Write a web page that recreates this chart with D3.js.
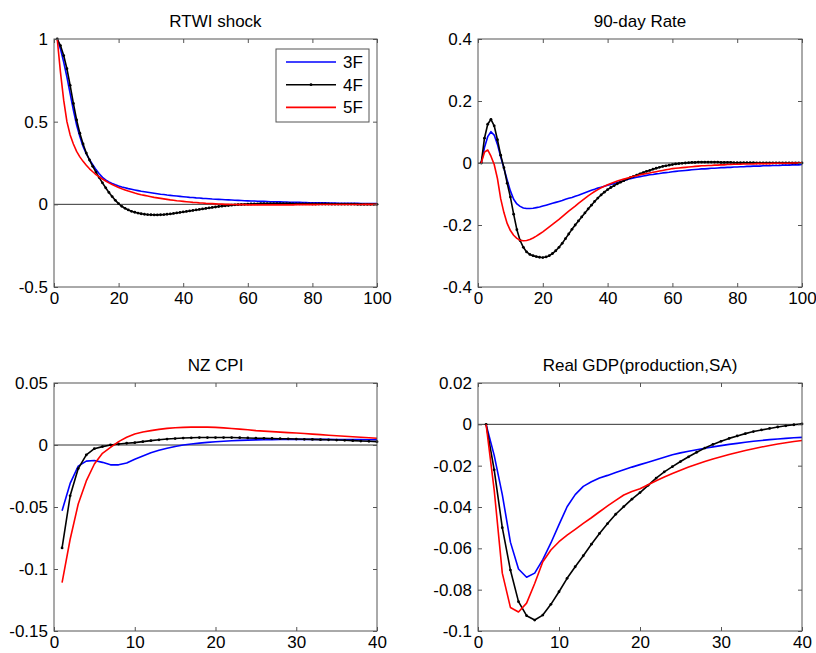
<!DOCTYPE html>
<html><head><meta charset="utf-8">
<script src="https://cdn.jsdelivr.net/npm/d3@7"></script>
<style>body{margin:0;background:#fff} text{font-family:Arial,"Liberation Sans",Helvetica,sans-serif}</style>
</head><body><svg id="c" width="816" height="653"></svg>
<script>
// ---------- DATA ----------
const seriesNames = ["3F", "4F", "5F"];
const seriesColors = ["#0000ff", "#000000", "#ff0000"];

const rtwi3F = [1.0,0.94,0.86,0.77,0.67,0.57,0.48,0.41,0.35,0.305,
0.27,0.24,0.21,0.185,0.163,0.148,0.136,0.126,0.118,0.111,
0.105,0.1,0.095,0.091,0.087,0.083,0.079,0.076,0.073,0.07,
0.067,0.064,0.061,0.059,0.056,0.054,0.052,0.05,0.048,0.046,
0.044,0.042,0.041,0.039,0.038,0.036,0.035,0.034,0.032,0.031,
0.03,0.029,0.028,0.027,0.026,0.025,0.024,0.023,0.022,0.021,
0.02,0.02,0.019,0.018,0.018,0.017,0.016,0.016,0.015,0.015,
0.014,0.014,0.013,0.013,0.012,0.012,0.011,0.011,0.01,0.01,
0.01,0.009,0.009,0.009,0.008,0.008,0.008,0.007,0.007,0.007,
0.006,0.006,0.006,0.006,0.005,0.005,0.005,0.005,0.004,0.004];
const rtwi4F = [1.0,0.96,0.9,0.82,0.72,0.61,0.51,0.43,0.365,0.31,
0.268,0.23,0.195,0.162,0.13,0.1,0.072,0.047,0.024,0.004,
-0.012,-0.024,-0.034,-0.042,-0.048,-0.053,-0.057,-0.06,-0.062,-0.063,
-0.064,-0.064,-0.063,-0.062,-0.06,-0.058,-0.055,-0.052,-0.049,-0.046,
-0.043,-0.04,-0.037,-0.034,-0.031,-0.028,-0.025,-0.022,-0.019,-0.016,
-0.013,-0.011,-0.009,-0.007,-0.005,-0.003,-0.002,-0.001,0.0,0.001,
0.002,0.003,0.003,0.004,0.004,0.004,0.004,0.004,0.004,0.004,
0.004,0.004,0.004,0.003,0.003,0.003,0.003,0.003,0.003,0.002,
0.002,0.002,0.002,0.002,0.002,0.001,0.001,0.001,0.001,0.001,
0.001,0.001,0.001,0.0,0.0,0.0,0.0,0.0,0.0,0.0];
const rtwi5F = [1.0,0.8,0.63,0.5,0.42,0.365,0.32,0.287,0.26,0.236,
0.215,0.197,0.18,0.166,0.153,0.141,0.13,0.12,0.111,0.102,
0.094,0.087,0.08,0.074,0.068,0.063,0.058,0.054,0.05,0.046,
0.042,0.039,0.036,0.033,0.03,0.027,0.025,0.022,0.02,0.018,
0.016,0.014,0.012,0.011,0.009,0.008,0.006,0.005,0.004,0.003,
0.002,0.001,0.0,0.0,-0.001,-0.001,-0.002,-0.002,-0.002,-0.003,
-0.003,-0.003,-0.003,-0.003,-0.003,-0.003,-0.003,-0.003,-0.003,-0.003,
-0.003,-0.003,-0.003,-0.003,-0.002,-0.002,-0.002,-0.002,-0.002,-0.002,
-0.002,-0.001,-0.001,-0.001,-0.001,-0.001,-0.001,-0.001,-0.001,-0.001,
-0.001,-0.001,-0.001,-0.001,-0.001,0.0,0.0,0.0,0.0,0.0];

const rate3F = [0,0.05,0.085,0.101,0.09,0.06,0.02,-0.017,-0.055,-0.09,
-0.117,-0.132,-0.14,-0.145,-0.147,-0.147,-0.146,-0.144,-0.142,-0.139,
-0.136,-0.133,-0.13,-0.127,-0.124,-0.121,-0.117,-0.114,-0.111,-0.107,
-0.104,-0.1,-0.096,-0.092,-0.088,-0.085,-0.081,-0.078,-0.075,-0.072,
-0.069,-0.066,-0.063,-0.06,-0.057,-0.053,-0.051,-0.048,-0.046,-0.044,
-0.042,-0.04,-0.038,-0.037,-0.035,-0.034,-0.032,-0.031,-0.03,-0.028,
-0.027,-0.026,-0.025,-0.024,-0.023,-0.022,-0.021,-0.02,-0.019,-0.019,
-0.018,-0.017,-0.017,-0.016,-0.015,-0.015,-0.014,-0.014,-0.013,-0.013,
-0.012,-0.012,-0.011,-0.011,-0.01,-0.01,-0.01,-0.009,-0.009,-0.009,
-0.008,-0.008,-0.008,-0.007,-0.007,-0.007,-0.006,-0.006,-0.006,-0.005];
const rate4F = [0,0.08,0.125,0.141,0.12,0.075,0.025,-0.015,-0.065,-0.11,
-0.165,-0.215,-0.25,-0.272,-0.287,-0.295,-0.299,-0.302,-0.304,-0.305,
-0.303,-0.299,-0.292,-0.283,-0.272,-0.259,-0.244,-0.229,-0.214,-0.2,
-0.187,-0.174,-0.161,-0.148,-0.136,-0.124,-0.113,-0.103,-0.094,-0.086,
-0.079,-0.073,-0.067,-0.062,-0.057,-0.052,-0.047,-0.043,-0.039,-0.035,
-0.031,-0.027,-0.024,-0.02,-0.017,-0.014,-0.011,-0.009,-0.007,-0.005,
-0.003,-0.002,-0.001,0,0.001,0.002,0.002,0.003,0.003,0.003,
0.003,0.003,0.003,0.003,0.002,0.002,0.002,0.002,0.001,0.001,
0.001,0.001,0.001,0.001,0.001,0,0,0,0,0,
0,0,0,0,0,0,0,0,0,0];
const rate5F = [0,0.035,0.042,0.022,-0.005,-0.05,-0.115,-0.16,-0.195,-0.218,
-0.233,-0.243,-0.249,-0.251,-0.25,-0.247,-0.242,-0.236,-0.229,-0.222,
-0.214,-0.206,-0.198,-0.19,-0.182,-0.173,-0.164,-0.155,-0.147,-0.139,
-0.13,-0.122,-0.114,-0.106,-0.099,-0.092,-0.086,-0.08,-0.075,-0.07,
-0.066,-0.062,-0.058,-0.055,-0.052,-0.049,-0.046,-0.043,-0.041,-0.038,
-0.036,-0.034,-0.032,-0.03,-0.028,-0.026,-0.024,-0.022,-0.02,-0.018,
-0.017,-0.016,-0.015,-0.014,-0.013,-0.012,-0.011,-0.01,-0.009,-0.009,
-0.008,-0.008,-0.007,-0.007,-0.006,-0.006,-0.005,-0.005,-0.004,-0.004,
-0.004,-0.003,-0.003,-0.003,-0.003,-0.002,-0.002,-0.002,-0.002,-0.002,
-0.001,-0.001,-0.001,-0.001,-0.001,-0.001,0,0,0,0];

const cpi3F = [-0.053,-0.031,-0.017,-0.013,-0.0125,-0.014,-0.016,-0.016,-0.0145,-0.0115,
-0.0088,-0.0063,-0.0043,-0.0027,-0.0012,0.0,0.0008,0.0015,0.0021,0.0026,
0.003,0.0034,0.0037,0.0039,0.0041,0.0042,0.0043,0.0044,0.0045,0.0045,
0.0045,0.0045,0.0045,0.0045,0.0044,0.0044,0.0043,0.0043,0.0042,0.0042];
const cpi4F = [-0.083,-0.041,-0.019,-0.008,-0.003,-0.0013,0.0,0.0008,0.0014,0.0019,
0.0027,0.0035,0.0042,0.0048,0.0052,0.0056,0.0058,0.006,0.006,0.006,
0.006,0.006,0.0059,0.0057,0.0055,0.0054,0.0053,0.0051,0.005,0.0048,
0.0046,0.0045,0.0043,0.0042,0.004,0.0038,0.0035,0.0032,0.003,0.0027];
const cpi5F = [-0.111,-0.076,-0.0476,-0.029,-0.0153,-0.0067,-0.0019,0.0027,0.0062,0.0089,
0.0105,0.0116,0.0126,0.0134,0.0139,0.0142,0.0144,0.0145,0.0144,0.0142,
0.0138,0.0133,0.0128,0.0123,0.0116,0.0112,0.0108,0.0104,0.01,0.0097,
0.0093,0.0088,0.0084,0.0079,0.0075,0.0071,0.0067,0.0063,0.0058,0.0054];

const gdp3F = [0,-0.015,-0.034,-0.057,-0.07,-0.074,-0.072,-0.0655,-0.0574,-0.0485,
-0.0399,-0.034,-0.03,-0.0278,-0.026,-0.0247,-0.0233,-0.022,-0.0207,-0.0195,
-0.0183,-0.0171,-0.0159,-0.0147,-0.0138,-0.013,-0.0123,-0.0116,-0.0109,-0.0103,
-0.0097,-0.0092,-0.0087,-0.0082,-0.0078,-0.0074,-0.0071,-0.0068,-0.0065,-0.0063];
const gdp4F = [0,-0.022,-0.05,-0.0705,-0.0858,-0.0926,-0.0947,-0.0923,-0.0871,-0.081,
-0.0745,-0.0689,-0.0636,-0.058,-0.0528,-0.048,-0.0435,-0.0398,-0.0362,-0.033,
-0.0295,-0.026,-0.023,-0.0205,-0.018,-0.0157,-0.0135,-0.0115,-0.0097,-0.0082,
-0.0068,-0.0056,-0.0045,-0.0035,-0.0027,-0.002,-0.0013,-0.0007,-0.0002,0.0002];
const gdp5F = [0,-0.0318,-0.072,-0.0886,-0.0908,-0.0865,-0.077,-0.0665,-0.0608,-0.0568,
-0.0536,-0.0508,-0.0479,-0.0452,-0.0423,-0.0395,-0.0368,-0.0342,-0.0325,-0.0312,
-0.0292,-0.0273,-0.0255,-0.0238,-0.0222,-0.0207,-0.0193,-0.018,-0.0168,-0.0157,
-0.0146,-0.0136,-0.0127,-0.0118,-0.011,-0.0102,-0.0095,-0.0089,-0.0083,-0.0078];

const titles = ["RTWI shock", "90-day Rate", "NZ CPI", "Real GDP(production,SA)"];
const xTicksLong = [0, 20, 40, 60, 80, 100];
const xTicksShort = [0, 10, 20, 30, 40];
const yTicksRtwi = [-0.5, 0, 0.5, 1];
const yTicksRate = [-0.4, -0.2, 0, 0.2, 0.4];
const yTicksCpi = [-0.15, -0.1, -0.05, 0, 0.05];
const yTicksGdp = [-0.1, -0.08, -0.06, -0.04, -0.02, 0, 0.02];

// ---------- LAYOUT ----------
const panels = [
  {title: titles[0], box: [54, 377, 39, 287], xd: [0, 100], yd: [-0.5, 1], xt: xTicksLong, yt: yTicksRtwi, data: [rtwi3F, rtwi4F, rtwi5F], legend: true},
  {title: titles[1], box: [478, 802, 39, 287], xd: [0, 100], yd: [-0.4, 0.4], xt: xTicksLong, yt: yTicksRate, data: [rate3F, rate4F, rate5F]},
  {title: titles[2], box: [54, 377, 383, 631], xd: [0, 40], yd: [-0.15, 0.05], xt: xTicksShort, yt: yTicksCpi, data: [cpi3F, cpi4F, cpi5F]},
  {title: titles[3], box: [478, 802, 383, 631], xd: [0, 40], yd: [-0.1, 0.02], xt: xTicksShort, yt: yTicksGdp, data: [gdp3F, gdp4F, gdp5F]}
];

const svg = d3.select("#c");
const fmt = d => String(Math.round(d * 1000) / 1000);
const FS = 17, AX = "#555";

panels.forEach(p => {
  const [l, r, t, b] = p.box;
  const x = d3.scaleLinear().domain(p.xd).range([l, r]);
  const y = d3.scaleLinear().domain(p.yd).range([b, t]);
  const g = svg.append("g");

  // zero line
  g.append("line").attr("x1", x(p.xd[0])).attr("x2", x(p.xd[1]))
    .attr("y1", y(0)).attr("y2", y(0)).attr("stroke", "#333").attr("stroke-width", 1);

  // series
  const line = d3.line().x((d, i) => x(i + 1)).y(d => y(d));
  p.data.forEach((s, k) => {
    g.append("path").datum(s).attr("d", line).attr("fill", "none")
      .attr("stroke", seriesColors[k]).attr("stroke-width", 1.6).attr("stroke-linejoin", "round");
    if (k === 1) {
      g.selectAll(null).data(s).enter().append("circle")
        .attr("cx", (d, i) => x(i + 1)).attr("cy", d => y(d)).attr("r", 1.4).attr("fill", "#000");
    }
  });

  // axes (inward ticks on all four sides)
  const style = sel => {
    sel.select(".domain").remove();
    sel.selectAll(".tick line").attr("stroke", AX);
    sel.selectAll("text").attr("font-size", FS).attr("fill", "#000")
      .attr("font-family", "Arial, 'Liberation Sans', sans-serif");
  };
  g.append("g").attr("transform", `translate(${l},0)`)
    .call(d3.axisLeft(y).tickValues(p.yt).tickFormat(fmt).tickSize(-4).tickPadding(6)).call(style);
  g.append("g").attr("transform", `translate(${r},0)`)
    .call(d3.axisRight(y).tickValues(p.yt).tickFormat("").tickSize(-4)).call(style);
  g.append("g").attr("transform", `translate(0,${b})`)
    .call(d3.axisBottom(x).tickValues(p.xt).tickFormat(fmt).tickSize(-4).tickPadding(5)).call(style);
  g.append("g").attr("transform", `translate(0,${t})`)
    .call(d3.axisTop(x).tickValues(p.xt).tickFormat("").tickSize(-4)).call(style);
  g.selectAll(".tick text").filter(function(){return this.textContent===""}).remove();

  g.append("rect").attr("x", l).attr("y", t).attr("width", r - l).attr("height", b - t)
    .attr("fill", "none").attr("stroke", AX).attr("stroke-width", 1);

  // title
  svg.append("text").attr("x", (l + r) / 2).attr("y", t - 12.5).attr("text-anchor", "middle")
    .attr("font-size", FS).attr("fill", "#000").text(p.title);

  // legend
  if (p.legend) {
    const lg = svg.append("g");
    lg.append("rect").attr("x", 276).attr("y", 49).attr("width", 93).attr("height", 73)
      .attr("fill", "#fff").attr("stroke", AX).attr("stroke-width", 1);
    seriesNames.forEach((n, k) => {
      const yy = 62 + k * 22.7;
      lg.append("line").attr("x1", 286).attr("x2", 336).attr("y1", yy).attr("y2", yy)
        .attr("stroke", seriesColors[k]).attr("stroke-width", 1.6);
      if (k === 1) lg.append("circle").attr("cx", 311).attr("cy", yy).attr("r", 1.4).attr("fill", "#000");
      lg.append("text").attr("x", 343).attr("y", yy).attr("dy", "0.35em")
        .attr("font-size", FS).attr("fill", "#000").text(n);
    });
  }
});
</script></body></html>
